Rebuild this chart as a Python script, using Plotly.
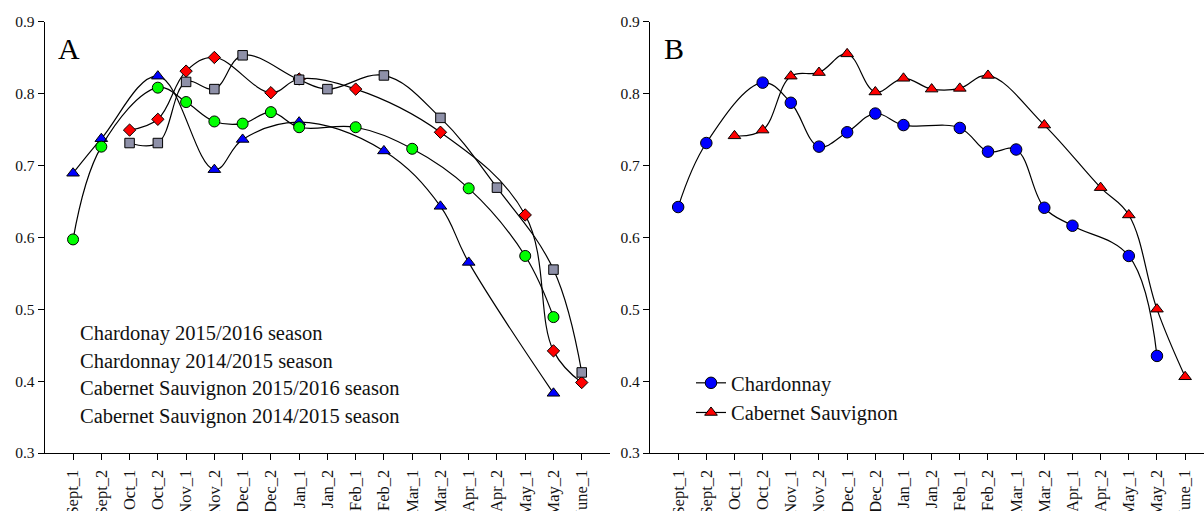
import plotly.graph_objects as go

categories = ["Sept_1", "Sept_2", "Oct_1", "Oct_2", "Nov_1", "Nov_2", "Dec_1", "Dec_2",
              "Jan_1", "Jan_2", "Feb_1", "Feb_2", "Mar_1", "Mar_2", "Apr_1", "Apr_2",
              "May_1", "May_2", "June_1"]
N = None

# Panel A
chard_1516 = [0.689, 0.737, N, 0.824, N, 0.694, 0.736, N, 0.760, N, N, 0.720, N, 0.643, 0.565, N, N, 0.383, N]
chard_1415 = [0.597, 0.726, N, 0.808, 0.788, 0.761, 0.758, 0.774, 0.753, N, 0.753, N, 0.723, N, 0.668, N, 0.574, 0.489, N]
cab_1516 = [N, N, 0.749, 0.764, 0.831, 0.850, N, 0.801, 0.820, N, 0.806, N, N, 0.746, N, N, 0.631, 0.442, 0.398]
cab_1415 = [N, N, 0.731, 0.731, 0.816, 0.806, 0.853, N, 0.819, 0.806, N, 0.825, N, 0.766, N, 0.669, N, 0.555, 0.412]

names_a = ["Chardonay 2015/2016 season", "Chardonnay 2014/2015 season",
           "Cabernet Sauvignon 2015/2016 season", "Cabernet Sauvignon 2014/2015 season"]

# Panel B
chard_mean = [0.642, 0.731, N, 0.815, 0.787, 0.726, 0.746, 0.772, 0.756, N, 0.752, 0.719, 0.722, 0.641, 0.616, N, 0.574, 0.435, N]
cab_mean = [N, N, 0.741, 0.749, 0.824, 0.829, 0.855, 0.802, 0.821, 0.806, 0.807, 0.825, N, 0.756, N, 0.669, 0.631, 0.500, 0.406]
names_b = ["Chardonnay", "Cabernet Sauvignon"]

W, H = 1204, 511
FONT = "Liberation Serif, Times New Roman, serif"
xs = list(range(len(categories)))

fig = go.Figure()

styles_a = [
    dict(symbol="triangle-up", color="#0000FF", size=11),
    dict(symbol="circle", color="#00FF00", size=11),
    dict(symbol="diamond", color="#FF0000", size=9.5),
    dict(symbol="square", color="#8E90A8", size=9.5),
]
for ys, nm, st in zip([chard_1516, chard_1415, cab_1516, cab_1415], names_a, styles_a):
    fig.add_trace(go.Scatter(
        x=xs, y=ys, name=nm, mode="lines+markers", connectgaps=True,
        line=dict(color="black", width=1.2, shape="spline", smoothing=1.1),
        marker=dict(symbol=st["symbol"], color=st["color"], size=st["size"],
                    line=dict(color="black", width=1)),
        xaxis="x", yaxis="y", showlegend=False))

styles_b = [
    dict(symbol="circle", color="#0000FF", size=11.5),
    dict(symbol="triangle-up", color="#FF0000", size=11),
]
for ys, nm, st in zip([chard_mean, cab_mean], names_b, styles_b):
    fig.add_trace(go.Scatter(
        x=xs, y=ys, name=nm, mode="lines+markers", connectgaps=True,
        line=dict(color="black", width=1.2, shape="spline", smoothing=1.1),
        marker=dict(symbol=st["symbol"], color=st["color"], size=st["size"],
                    line=dict(color="black", width=1)),
        xaxis="x2", yaxis="y2", showlegend=True))

ydom = [1 - 453 / H, 1 - 21.5 / H]
common_x = dict(tickmode="array", tickvals=xs, ticktext=categories, tickangle=-90,
                ticks="outside", ticklen=6, tickwidth=1.2, tickcolor="black",
                showline=True, linecolor="black", linewidth=1.3, showgrid=False,
                zeroline=False, automargin=False, ticklabelstandoff=3,
                tickfont=dict(family=FONT, size=16.5, color="#111"))
common_y = dict(range=[0.3, 0.9], tickvals=[0.3, 0.4, 0.5, 0.6, 0.7, 0.8, 0.9],
                ticktext=["0.3", "0.4", "0.5", "0.6", "0.7", "0.8", "0.9"],
                ticks="outside", ticklen=6, tickwidth=1.2, tickcolor="black",
                showline=True, linecolor="black", linewidth=1.3, showgrid=False,
                zeroline=False, automargin=False, domain=ydom,
                tickfont=dict(family=FONT, size=15.5, color="#111"))

fig.update_layout(
    width=W, height=H,
    margin=dict(l=0, r=0, t=0, b=0, pad=0),
    paper_bgcolor="white", plot_bgcolor="white",
    xaxis=dict(domain=[44.8 / W, 610 / W], range=[-1, 19], anchor="y", **common_x),
    yaxis=dict(anchor="x", **common_y),
    xaxis2=dict(domain=[650 / W, 1.0], range=[-1, 18.67], anchor="y2", **common_x),
    yaxis2=dict(anchor="x2", **common_y),
    legend=dict(x=691 / W, y=1 - 398 / H, xanchor="left", yanchor="middle",
                bgcolor="rgba(0,0,0,0)", borderwidth=0,
                font=dict(family=FONT, size=20.5, color="#111"),
                itemsizing="trace", tracegroupgap=0),
    font=dict(family=FONT),
)

annotations = [
    dict(x=68.5 / W, y=1 - 48.5 / H, xref="paper", yref="paper", text="A", showarrow=False,
         xanchor="center", yanchor="middle", font=dict(family=FONT, size=30, color="black")),
    dict(x=674 / W, y=1 - 49 / H, xref="paper", yref="paper", text="B", showarrow=False,
         xanchor="center", yanchor="middle", font=dict(family=FONT, size=30, color="black")),
]
for i, nm in enumerate(names_a):
    yc = [333, 361, 388, 416][i]
    annotations.append(dict(x=78 / W, y=1 - yc / H, xref="paper", yref="paper", text=nm,
                            showarrow=False, xanchor="left", yanchor="middle",
                            font=dict(family=FONT, size=20.5, color="#111")))
fig.update_layout(annotations=annotations)

fig.write_html("out.html")
